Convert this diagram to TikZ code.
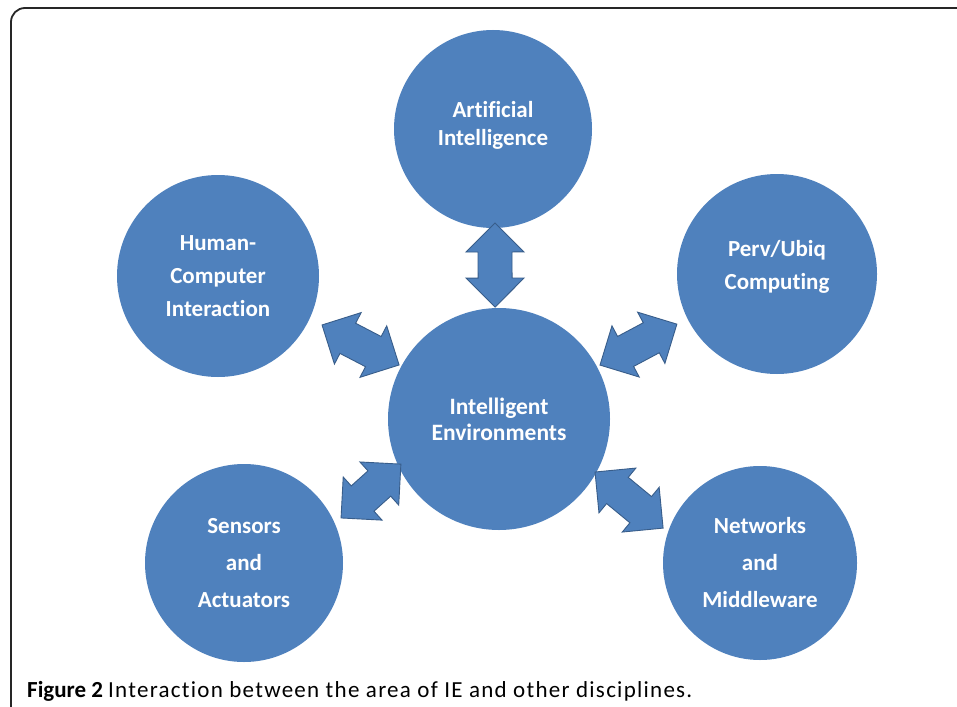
\documentclass[tikz,border=0pt]{standalone}
\usepackage{fontspec}
\setmainfont{Carlito}[Ligatures=CommonOff]
\usetikzlibrary{calc}
\definecolor{cblue}{RGB}{79,129,189}
\definecolor{cedge}{RGB}{56,93,138}
\newcommand\dblarrow[2]{%
  \coordinate (t1) at #1;
  \coordinate (t2) at #2;
  \filldraw[arrowstyle]
    (t1)
    -- ($(t1)!29pt!(t2)!29pt!90:(t2)$)
    -- ($(t1)!29pt!(t2)!17pt!90:(t2)$)
    -- ($(t2)!29pt!(t1)!17pt!-90:(t1)$)
    -- ($(t2)!29pt!(t1)!29pt!-90:(t1)$)
    -- (t2)
    -- ($(t2)!29pt!(t1)!29pt!90:(t1)$)
    -- ($(t2)!29pt!(t1)!17pt!90:(t1)$)
    -- ($(t1)!29pt!(t2)!17pt!-90:(t2)$)
    -- ($(t1)!29pt!(t2)!29pt!-90:(t2)$)
    -- cycle;}
\begin{document}
\begin{tikzpicture}[x=1pt,y=-1pt,
  disc/.style={circle,fill=cblue,text=white,align=center,inner sep=0pt,
    font=\fontsize{23}{28}\selectfont\bfseries},
  arrowstyle/.style={fill=cblue,draw=cedge,line width=0.9pt,line join=miter},
  frame/.style={draw=black!85,line width=1.8pt,rounded corners=14pt}]
\useasboundingbox (0,0) rectangle (957,706);
\clip (0,0) rectangle (957,706);
\fill[white] (0,0) rectangle (957,706);
\draw[frame] (11,712) -- (11,8) -- (965,8);
\node[disc,minimum size=198pt,text depth=10.5pt] (ai) at (493,129) {Artificial\\Intelligence};
\node[disc,minimum size=202pt,font=\fontsize{23}{33}\selectfont\bfseries] (hci) at (218,276) {Human-\\Computer\\Interaction};
\node[disc,minimum size=200pt,font=\fontsize{23}{33}\selectfont\bfseries,text depth=19pt] (pu) at (777,274) {Perv/Ubiq\\Computing};
\node[disc,minimum size=222pt,font=\fontsize{23.5}{26}\selectfont\bfseries] (ie) at (499,419) {Intelligent\\Environments};
\node[disc,minimum size=198pt,font=\fontsize{23}{37}\selectfont\bfseries] (sa) at (244,563) {Sensors\\and\\Actuators};
\node[disc,minimum size=194pt,font=\fontsize{23}{37}\selectfont\bfseries] (nm) at (760,563) {Networks\\and\\Middleware};
\dblarrow{($(ai)+(-88.8:94pt)$)}{($(ie)+(92:112pt)$)}
\dblarrow{($(hci)+(-25.2:115pt)$)}{($(ie)+(151.6:113.6pt)$)}
\dblarrow{($(pu)+(206.6:112pt)$)}{($(ie)+(28.1:114.5pt)$)}
\dblarrow{($(sa)+(24.9:107pt)$)}{($(ie)+(204.7:108pt)$)}
\dblarrow{($(nm)+(160.2:103pt)$)}{($(ie)+(-28.9:109.7pt)$)}
\node[anchor=base west,inner sep=0pt,font=\fontsize{23}{26}\selectfont] (cap) at (27,697)
  {\textbf{Figure 2} {\addfontfeatures{LetterSpace=5.5}Interaction between the area of IE and other disciplines.}};
\end{tikzpicture}
\end{document}
